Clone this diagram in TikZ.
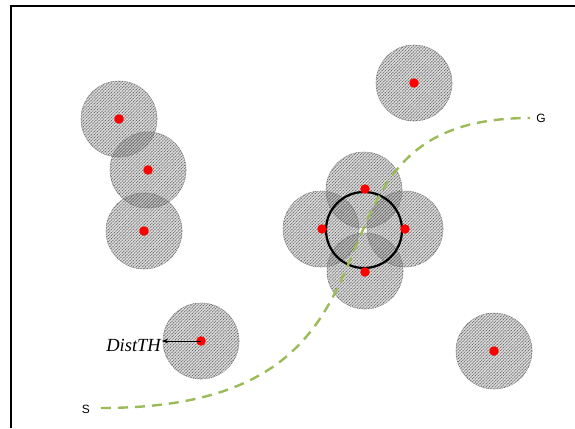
\documentclass[tikz,border=0pt]{standalone}
\usepackage{fontspec}
\setmainfont{Liberation Serif}
\newfontfamily\labelsans{Liberation Sans}
\usetikzlibrary{patterns.meta,arrows.meta}
\definecolor{pathgreen}{RGB}{155,187,89}
\definecolor{dotred}{RGB}{255,0,0}
\begin{document}
\begin{tikzpicture}[x=1pt,y=-1pt,
  zone/.style={circle, minimum size=76pt, inner sep=0pt,
    preaction={fill=gray, fill opacity=0.28},
    pattern={Lines[angle=45,distance=2.2pt,line width=0.7pt]},
    pattern color=black!62,
    draw=black!55, line width=0.6pt, dash pattern=on 1pt off 0.8pt},
  obstacle/.style={circle, fill=dotred, minimum size=9.5pt, inner sep=0pt},
  robot/.style={circle, draw=black, line width=2.2pt, minimum size=76pt, inner sep=0pt},
  endlabel/.style={font=\labelsans\fontsize{12}{14}\selectfont, inner sep=0pt},
  route/.style={pathgreen, line width=2.4pt, dash pattern=on 10pt off 7pt}]
\useasboundingbox (0,0) rectangle (575,428);
% frame
\draw[line width=1.4pt] (11,428) -- (11,6) -- (575,6);

% obstacle safety zones
\foreach \n/\x/\y in {a/414/83, b/119/119, c/148/170, d/144/231, e/201/341, f/494/351,
                      t/364/190, l/321/229, r/405/229, u/365/271}
  \node[zone] (z\n) at (\x,\y) {};

% robot footprint
\node[robot] (rob) at (364,230) {};
\node[fill=white, minimum width=5pt, minimum height=4pt, inner sep=0pt] (rc) at (362,230) {};

% obstacles
\foreach \n/\x/\y in {a/414/83, b/119/119, c/148/170, d/144/231, e/201/341, f/494/351,
                      t/365/189, l/322/229, r/405/229, u/365/272}
  \node[obstacle] (o\n) at (\x,\y) {};

% start / goal and route
\node[endlabel] (S) at (86,409) {S};
\node[endlabel] (G) at (541,118) {G};
\coordinate (s0) at (101,408);
\coordinate (g0) at (530,118);
\draw[route] (s0) .. controls (450,408) and (270,118) .. (g0);

% threshold distance
\node[anchor=east, inner sep=1pt, font=\fontsize{18.5}{22}\selectfont\itshape] (dth) at (162,345) {DistTH};
\draw[-{Stealth[length=6pt,width=4.5pt]}, line width=0.5pt] (oe.center) -- (oe.center -| dth.east);
\end{tikzpicture}
\end{document}
